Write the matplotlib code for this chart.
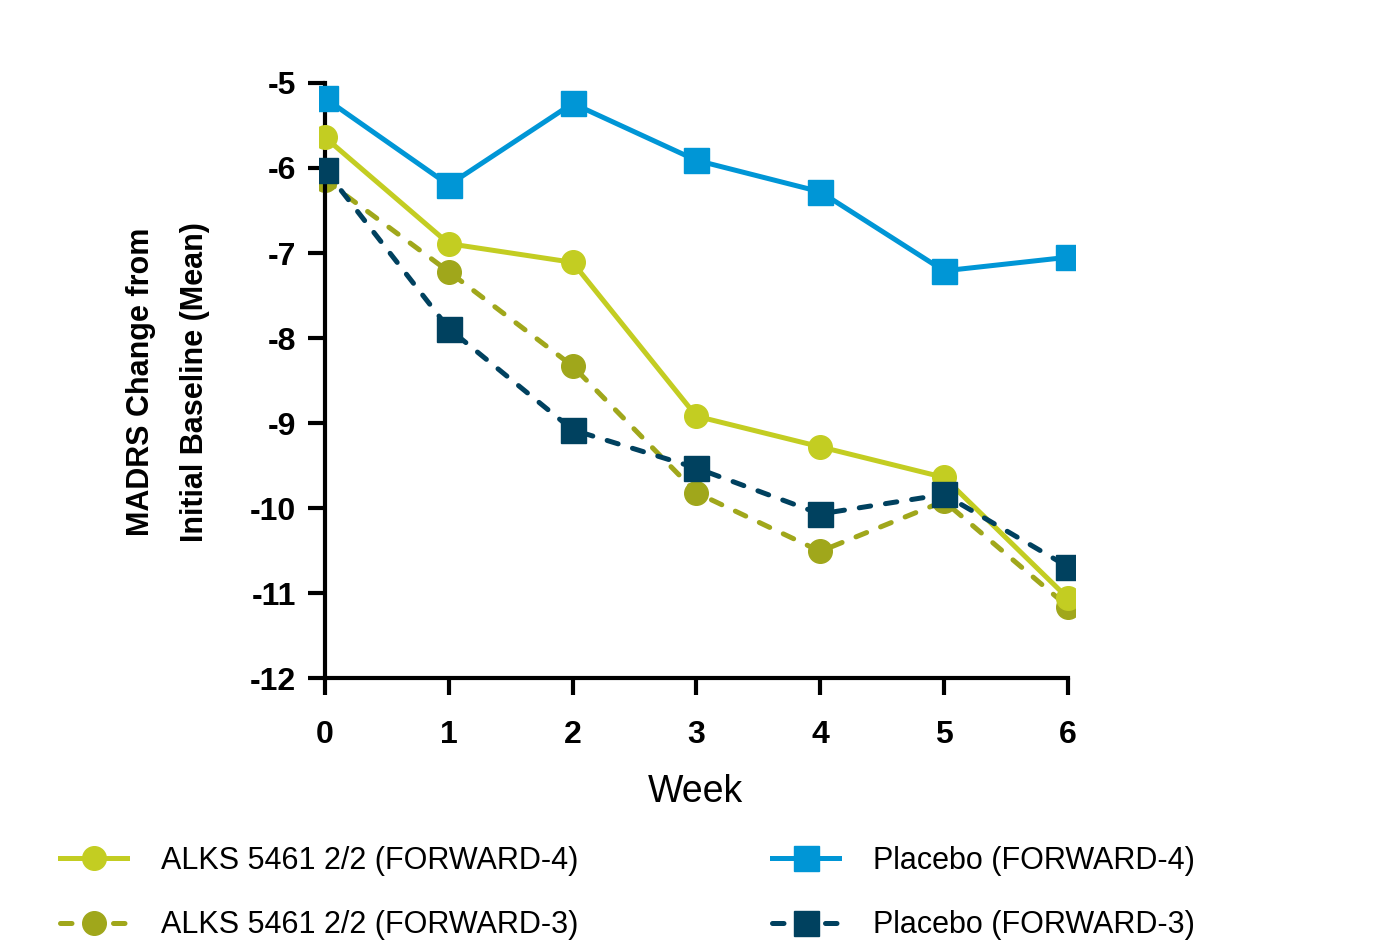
import matplotlib
matplotlib.use("Agg")
import matplotlib.pyplot as plt

plt.rcParams["font.family"] = ["Liberation Sans", "DejaVu Sans"]
plt.rcParams["axes.unicode_minus"] = False

weeks = [0, 1, 2, 3, 4, 5, 6]
alks_f4 = [-5.64, -6.89, -7.11, -8.92, -9.28, -9.64, -11.06]
alks_f3 = [-6.14, -7.22, -8.33, -9.82, -10.51, -9.92, -11.16]
placebo_f4 = [-5.18, -6.20, -5.24, -5.91, -6.28, -7.21, -7.05]
placebo_f3 = [-6.02, -7.89, -9.08, -9.53, -10.07, -9.84, -10.69]

labels = [
    "ALKS 5461 2/2 (FORWARD-4)",
    "ALKS 5461 2/2 (FORWARD-3)",
    "Placebo (FORWARD-4)",
    "Placebo (FORWARD-3)",
]
yticks = [-5, -6, -7, -8, -9, -10, -11, -12]

c_lime = "#c3cd22"
c_olive = "#a0a71b"
c_blue = "#0096d6"
c_navy = "#00415f"

fig = plt.figure(figsize=(13.73, 9.43), dpi=100)
ax = fig.add_axes([0.2322, 0.281, 0.5505, 0.6373])

lw = 3.6
dash = (2.3, 3.0)

l_olive, = ax.plot(weeks, alks_f3, color=c_olive, lw=lw, marker="o", ms=17,
                   mec=c_olive, dash_capstyle="round", zorder=2)
l_olive.set_dashes(dash)
l_lime, = ax.plot(weeks, alks_f4, color=c_lime, lw=lw, marker="o", ms=17,
                  mec=c_lime, zorder=3)
l_blue, = ax.plot(weeks, placebo_f4, color=c_blue, lw=lw, marker="s", ms=18,
                  mec=c_blue, zorder=4)
l_navy, = ax.plot(weeks, placebo_f3, color=c_navy, lw=lw, marker="s", ms=18,
                  mec=c_navy, dash_capstyle="round", zorder=5)
l_navy.set_dashes(dash)

ax.set_xlim(-0.05, 6.055)
ax.set_ylim(-12, -4.93)

for side in ("top", "right"):
    ax.spines[side].set_visible(False)
ax.spines["left"].set_position(("data", 0))
ax.spines["left"].set_bounds(-12, -5)
ax.spines["bottom"].set_bounds(0, 6)
for side in ("left", "bottom"):
    ax.spines[side].set_linewidth(3)
    ax.spines[side].set_capstyle("projecting")

ax.set_xticks(weeks)
ax.set_yticks(yticks)
ax.tick_params(axis="both", width=3, length=12, labelsize=23, direction="out")
ax.tick_params(axis="y", pad=9)
ax.tick_params(axis="x", pad=18)
for t in ax.get_xticklabels() + ax.get_yticklabels():
    t.set_fontweight("bold")

ax.set_xlabel("Week", fontsize=27)
ax.xaxis.set_label_coords(695 / 1373, 1 - 792 / 943, transform=fig.transFigure)
ax.xaxis.label.set_va("center")
ax.set_ylabel("MADRS Change from\nInitial Baseline (Mean)", fontsize=22,
              fontweight="bold", linespacing=2.05)
ax.yaxis.set_label_coords(168 / 1373, 1 - 382 / 943, transform=fig.transFigure)
ax.yaxis.label.set_va("center")

leg_kw = dict(frameon=False, fontsize=22, handlelength=2.2, handletextpad=1.1,
              labelspacing=1.12, borderpad=0, borderaxespad=0, loc="upper left")
fig.legend([l_lime, l_olive], labels[:2],
           bbox_to_anchor=(60 / 1373, 1 - 846 / 943), **leg_kw)
fig.legend([l_blue, l_navy], labels[2:],
           bbox_to_anchor=(772 / 1373, 1 - 846 / 943), **leg_kw)

fig.savefig("out.png", dpi=100)
